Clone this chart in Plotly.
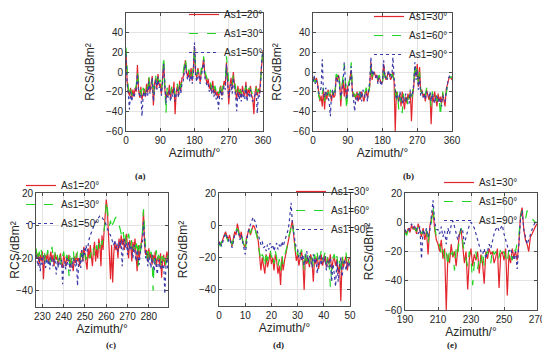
import plotly.graph_objects as go

# ---------------- data ----------------
# (a) azimuth 0..360 step 3
A_START, A_STEP = 0, 3
a_red = [22, -10, -20, -24, -16, -28, -18, -25, -16, -20,
         7, -18, -26, -15, -28, -22, -17, -25, -12, -21,
         -6, -20, -14, -4, -34, -12, -6, -17, -2, -14,
         -12, -22, -6, 10, -17, -28, -20, -24, -13, -27,
         -17, -22, -10, -43, -20, -14, -24, -9, -19, -6,
         -6, 4, 12, 0, -5, 2, -6, 4, -9, 4,
         26, -2, -6, 4, -4, -10, 1, 5, 14, -2,
         -6, -12, -7, -17, -12, -20, -9, -22, -16, -24,
         -20, -26, -18, -14, -24, -16, -9, -14, 10, -8,
         -33, -14, -6, -17, 0, -13, -20, -28, -14, -24,
         -17, -26, -14, -22, -24, -10, -26, -17, -22, -14,
         -24, -26, -43, -21, -14, -24, -17, -22, -4, 12,
         22]
a_green = [25, -5, -17, -20, -14, -24, -20, -22, -18, -13,
           0, -14, -20, -18, -26, -16, -19, -22, -14, -18,
           -4, -16, -10, -8, -24, -8, -4, -14, -6, -10,
           -8, -18, -10, 16, -12, -42, -16, -20, -17, -22,
           -15, -18, -14, -24, -16, -12, -20, -12, -16, -8,
           -3, 6, 14, 3, -2, 3, -3, 1, -6, 7,
           24, 2, -3, 2, -1, -6, 4, 3, 16, 1,
           -3, -8, -10, -13, -10, -17, -12, -18, -14, -20,
           -16, -22, -20, -12, -20, -14, -11, -10, 16, 2,
           -10, -8, -10, -13, -3, -10, -16, -22, -16, -20,
           -19, -22, -16, -18, -20, -14, -22, -19, -16, -18,
           -20, -24, -22, -18, -16, -20, -20, -14, -8, 10,
           26]
a_blue = [18, -12, -22, -38, -20, -30, -22, -26, -21, -17,
          -2, -20, -24, -22, -45, -24, -20, -26, -18, -24,
          -10, -22, -16, -6, -30, -14, -8, -18, -5, -16,
          -14, -24, -12, 8, -20, -32, -22, -26, -18, -30,
          -22, -25, -16, -30, -22, -18, -26, -14, -22, -12,
          -10, 0, 8, -2, -8, -3, -10, 0, -12, 0,
          30, -4, -10, 0, -7, -12, -3, 2, 12, -5,
          -10, -14, -12, -20, -16, -22, -14, -25, -20, -28,
          -24, -38, -24, -18, -28, -22, -14, -18, 8, -10,
          -26, -18, -12, -22, -6, -17, -24, -40, -20, -28,
          -22, -30, -18, -26, -28, -14, -30, -22, -26, -18,
          -28, -30, -26, -24, -20, -42, -22, -25, -10, 15,
          20]

# (b) azimuth 0..360 step 3
B_START, B_STEP = 0, 3
b_red = [-8, -5, -10, -6, -12, -20, -30, -24, -35, -18,
         -38, -20, -28, -18, -25, -22, -30, -20, -26, -24,
         -5, -8, -3, -10, -35, -15, -8, -25, -10, -30,
         -15, -12, -5, 2, -20, -25, -22, -28, -20, -30,
         -22, -28, -20, -25, -30, -22, -18, -26, -20, -15,
         10, -8, -2, 0, -5, -3, -10, -5, -8, -12,
         -10, 8, -2, -8, -5, 0, -3, -8, -5, 0,
         -10, -60, -20, -25, -30, -22, -35, -20, -28, -38,
         -25, -32, -22, -28, -20, -50, -24, -15, 5, -5,
         8, -15, 5, -20, -18, -25, -22, -30, -18, -25,
         -28, -22, -53, -25, -30, -20, -28, -35, -22, -30,
         -25, -32, -22, -28, -35, -18, -12, -8, -5, -6,
         -8]
b_green = [-6, -10, -8, -12, -15, -25, -28, -20, -22, -16,
           -30, -18, -24, -20, -28, -18, -26, -22, -20, -20,
           -2, -5, 0, -12, -28, -14, -5, 8, -12, -38,
           -18, -10, -8, 10, -18, -22, -25, -24, -22, -26,
           -20, -25, -24, -22, -26, -20, -16, -22, -24, -12,
           8, -5, 0, -2, -4, -6, -8, -3, -6, -10,
           -12, 5, -4, -6, -3, -2, -6, -5, -2, -4,
           -8, -25, -32, -20, -38, -25, -30, -42, -22, -32,
           -28, -26, -35, -25, -22, -30, -20, -10, 8, 0,
           5, -12, 0, -18, -22, -20, -26, -24, -16, -20,
           -22, -26, -35, -20, -26, -24, -22, -30, -25, -28,
           -45, -28, -20, -30, -26, -22, -15, -10, -6, -5,
           -6]
b_blue = [-10, -4, -12, -8, -14, -22, -20, -16, 13, -20,
          -26, -16, -22, -25, -30, -45, -22, -18, -24, -20,
          -6, -10, -4, -15, -25, -20, -10, 10, -15, -28,
          -20, -15, -10, 6, -22, -28, -40, -26, -30, -22,
          -28, -20, -30, -18, -22, -26, -22, -30, -18, -10,
          15, -3, 2, -4, -6, -2, -12, -6, -10, -14,
          -8, 12, -6, -4, -8, 2, -5, -2, -6, 15,
          -5, -20, -28, -24, -30, -20, -26, -32, -25, -30,
          -22, -28, -30, -32, -18, -25, -22, -12, 10, -8,
          2, -18, -5, -24, -20, -26, -22, -28, -20, -22,
          -25, -20, -30, -22, -28, -32, -24, -25, -30, -26,
          -30, -35, -24, -28, -30, -20, -10, -6, -4, -3,
          -5]

# (c) azimuth 227..289 step 0.5
C_START, C_STEP = 227, 0.5
c_red = [-15, -20, -17, -24, -18, -22, -16, -33, -20, -18,
         -21, -17, -23, -19, -16, -22, -18, -25, -17, -21,
         -19, -24, -20, -17, -23, -26, -18, -21, -25, -19,
         -22, -18, -26, -20, -24, -28, -19, -23, -17, -22,
         -20, -25, -18, -15, -22, -13, -18, -24, -27, -14,
         -20, -12, -18, -25, -15, -10, -22, -14, -20, -8,
         -12, -25, -6, -15, -3, 5, 16, 10, -5, -20,
         -33, -12, -35, -18, -10, -15, -12, -20, -8, -14,
         -6, -12, -8, -15, -10, -5, -14, -20, -9, -12,
         -22, -10, -15, -8, -18, -28, -12, -20, -15, -10,
         -5, 9, -12, -18, -15, -22, -14, -20, -17, -24,
         -18, -22, -16, -25, -20, -19, -24, -17, -32, -21,
         -18, -25, -20, -16, -22]
c_green = [-14, -18, -22, -16, -20, -15, -21, -19, -17, -23,
           -18, -15, -20, -24, -17, -13, -19, -22, -16, -20,
           -18, -22, -17, -20, -24, -19, -16, -22, -20, -18,
           -21, -31, -18, -24, -19, -15, -22, -18, -20, -16,
           -19, -22, -16, -14, -20, -17, -15, -21, -18, -16,
           -18, -20, -15, -17, -14, -19, -16, -12, -15, -10,
           -14, -8, -12, -6, -3, 2, 15, 12, 2, 0,
           3, -2, 1, 2, 4, 5, 5, 3, 0, -2,
           -5, -8, -4, -10, -6, -12, -8, -5, -10, -14,
           -8, -12, -16, -10, -14, -9, -25, -12, -18, -10,
           -4, 10, -8, -15, -20, -13, -18, -22, -16, -19,
           -40, -20, -24, -15, -22, -18, -20, -25, -16, -20,
           -22, -18, -24, -17, -20]
c_blue = [-18, -22, -25, -19, -28, -20, -24, -18, -22, -26,
          -20, -24, -21, -27, -19, -23, -25, -20, -22, -30,
          -22, -26, -20, -24, -21, -36, -25, -22, -27, -20,
          -24, -21, -28, -23, -26, -20, -22, -25, -21, -37,
          -24, -20, -26, -15, -22, -14, -18, -12, -16, -10,
          -8, -6, -4, -2, 0, 1, 2, 3, 4, 5,
          6, 6, 5, 4, 3, 2, 0, -2, -4, -5,
          -6, -8, -10, -12, -9, -14, -11, -16, -10, -13,
          -9, -25, -12, -8, -14, -11, -18, -10, -15, -12,
          -14, -20, -12, -17, -22, -15, -19, -24, -16, -12,
          -10, 2, -14, -20, -17, -25, -19, -22, -26, -18,
          -22, -28, -20, -24, -30, -21, -25, -27, -22, -26,
          -24, -42, -26, -20, -28]

# (d) azimuth 0..50 step 0.5
D_START, D_STEP = 0, 0.5
d_red = [-10, -12, -11, -8, -6, -4, -7, -9, -6, -10,
         -13, -8, -4, -6, 1, -3, -8, -4, -10, -12,
         -14, -8, -5, -2, -6, -3, 0, -1, -3, -6,
         -10, -18, -28, -20, -25, -30, -18, -26, -22, -17,
         -24, -20, -28, -18, -22, -30, -25, -37, -20, -28,
         -22, -18, -15, -10, -5, -2, 3, -6, -16, -22,
         -18, -25, -20, -16, -22, -40, -18, -24, -20, -26,
         -18, -22, -35, -20, -24, -19, -27, -21, -18, -25,
         -22, -19, -26, -20, -24, -18, -28, -22, -20, -25,
         -21, -30, -24, -47, -20, -26, -22, -19, -28, -21,
         -20]
d_green = [-11, -13, -10, -7, -5, -6, -8, -10, -7, -9,
           -12, -9, -5, -3, -2, -4, -7, -5, -9, -11,
           -16, -9, -4, -3, -5, -2, -1, 0, -4, -7,
           -12, -16, -22, -18, -20, -26, -16, -22, -18, -15,
           -20, -17, -24, -16, -20, -26, -21, -28, -18, -24,
           -19, -16, -13, -8, -4, 0, 2, -5, -14, -20,
           -16, -22, -18, -15, -20, -28, -16, -22, -18, -24,
           -17, -20, -26, -18, -22, -17, -24, -19, -16, -22,
           -20, -17, -24, -18, -22, -38, -26, -20, -18, -23,
           -19, -26, -22, -30, -18, -24, -20, -17, -25, -22,
           -24]
d_blue = [-12, -10, -13, -9, -7, -5, -8, -10, -8, -11,
          -14, -10, -6, -5, -3, -5, -9, -6, -11, -14,
          -18, -10, -5, -2, 0, 2, 5, 3, 2, -3,
          -6, -8, -12, -10, -14, -13, -16, -12, -15, -11,
          -14, -12, -16, -13, -11, -15, -12, -14, -10, -13,
          -10, -8, -5, -2, 5, 14, 2, -5, -10, -14,
          -15, -20, -17, -22, -18, -25, -20, -16, -23, -19,
          -21, -26, -18, -24, -20, -30, -22, -18, -25, -20,
          -23, -19, -28, -22, -26, -20, -35, -24, -30, -38,
          -22, -35, -26, -20, -32, -24, -21, -28, -23, -26,
          -22]

# (e) azimuth 190..270 step 1
E_START, E_STEP = 190, 1
e_red = [-6, -8, -4, -7, -2, -5, -3, -8, -1, -6,
         -10, -4, -12, -6, -22, -3, 2, 8, -5, -12,
         -15, -20, -12, -25, -18, -60, -22, -28, -15, -24,
         -20, -30, -18, -8, -5, -15, -28, -20, -46, -25,
         -18, -30, -22, -26, -20, -35, -22, -28, -42, -20,
         -25, -18, -22, -20, -28, -24, -18, -45, -22, -20,
         -26, -18, -50, -22, -28, -18, -24, -20, -26, -15,
         5, 10, -5, -12, -15, -20, -10, -8, -5, -3,
         -1]
e_green = [-7, -9, -5, -6, -3, -4, -5, -6, -2, -4,
           -8, -6, -10, -5, -15, -4, 0, 10, -3, -10,
           -12, -16, -22, -18, -25, -20, -30, -18, -22, -20,
           -33, -18, -22, -10, -4, -12, -22, -25, -30, -20,
           -24, -43, -28, -20, -32, -24, -28, -20, -30, -22,
           -20, -24, -28, -18, -22, -20, -26, -24, -18, -22,
           -20, -24, -28, -18, -22, -26, -18, -20, -14, -10,
           4, 8, 5, 2, 8, 6, 5, 3, 1, 0,
           0]
e_blue = [-5, -7, -6, -3, -1, -4, -2, -5, -8, -3,
          -25, -5, -8, -4, -10, -6, 5, 15, 0, -5,
          -5, -8, -3, -10, -6, -15, -4, -8, -2, 1,
          -3, -8, -12, -8, -4, -6, -15, -10, -6, -2,
          0, -2, -4, -8, -12, -15, -20, -22, -18, -25,
          -20, -15, -18, -12, -8, -5, -3, -6, -4, -2,
          -8, -12, -15, -20, -18, -22, -26, -20, -32, -15,
          2, 8, -5, -10, -15, -12, -8, -5, -2, 0,
          -1]

names_a = ["As1=20°", "As1=30°", "As1=50°"]
names_b = ["As1=30°", "As1=60°", "As1=90°"]
panel_labels = ["(a)", "(b)", "(c)", "(d)", "(e)"]

# ---------------- styling ----------------
W, H = 550, 360
OFF = 8  # the page body margin shifts the figure by 8 px on screen
RED, GREEN, BLUE = "#e3262e", "#22d622", "#3a3aa8"
FONT = "Liberation Sans, Arial, sans-serif"


def px(x):
    return (x - OFF) / W


def py(y):
    return 1 - (y - OFF) / H


fig = go.Figure()

# boxes / legend positions in screen pixels of the 550x360 picture
panels = [
    dict(data=(a_red, a_green, a_blue), start=A_START, step=A_STEP, names=names_a,
         xr=[0, 360], yr=[-60, 60], xt=[0, 90, 180, 270, 360], yt=[-60, -40, -20, 0, 20, 40, 60],
         box=(126, 263, 13, 131), leg=(184, 0)),
    dict(data=(b_red, b_green, b_blue), start=B_START, step=B_STEP, names=names_b,
         xr=[0, 360], yr=[-60, 60], xt=[0, 90, 180, 270, 360], yt=[-60, -40, -20, 0, 20, 40, 60],
         box=(313, 452, 13, 131), leg=(369, 2)),
    dict(data=(c_red, c_green, c_blue), start=C_START, step=C_STEP, names=names_a,
         xr=[227, 289], yr=[-50, 20], xt=[230, 240, 250, 260, 270, 280], yt=[-40, -20, 0, 20],
         box=(36, 168, 193, 307), leg=(21, 171)),
    dict(data=(d_red, d_green, d_blue), start=D_START, step=D_STEP, names=names_b,
         xr=[0, 50], yr=[-50, 20], xt=[0, 10, 20, 30, 40, 50], yt=[-40, -20, 0, 20],
         box=(219, 350, 193, 306), leg=(291, 177)),
    dict(data=(e_red, e_green, e_blue), start=E_START, step=E_STEP, names=names_b,
         xr=[190, 270], yr=[-60, 20], xt=[190, 210, 230, 250, 270], yt=[-60, -40, -20, 0, 20],
         box=(405, 537, 193, 310), leg=(439, 168)),
]

styles = [dict(color=RED, dash="solid"), dict(color=GREEN, dash="dash"), dict(color=BLUE, dash="dot")]

layout = {}
for i, p in enumerate(panels):
    k = "" if i == 0 else str(i + 1)
    leg = "legend" if i == 0 else f"legend{i + 1}"
    for vals, nm, st in zip(p["data"], p["names"], styles):
        xs = [p["start"] + p["step"] * j for j in range(len(vals))]
        fig.add_trace(go.Scatter(
            x=xs, y=vals, mode="lines", name=nm,
            line=dict(color=st["color"], dash=st["dash"], width=1.2),
            xaxis="x" + k, yaxis="y" + k, legend=leg,
        ))
    l, r, t, b = p["box"]
    axcommon = dict(showline=True, linecolor="#4d4d4d", linewidth=1, mirror="ticks",
                    ticks="inside", ticklen=3, tickcolor="#4d4d4d",
                    showgrid=True, gridcolor="#e3e3e3", gridwidth=1, zeroline=False,
                    tickfont=dict(family=FONT, size=10, color="#262626"))
    layout["xaxis" + k] = dict(axcommon, domain=[px(l), px(r)], range=p["xr"], tickvals=p["xt"],
                               anchor="y" + k,
                               title=dict(text="Azimuth/°", font=dict(family=FONT, size=12, color="#262626"),
                                          standoff=2))
    layout["yaxis" + k] = dict(axcommon, domain=[py(b), py(t)], range=p["yr"], tickvals=p["yt"],
                               anchor="x" + k,
                               title=dict(text="RCS/dBm²",
                                          font=dict(family=FONT, size=12, color="#262626"),
                                          standoff=8))
    lx, ly = p["leg"]
    layout[leg] = dict(x=px(lx), y=py(ly), xanchor="left", yanchor="top",
                       bgcolor="rgba(255,255,255,0)", borderwidth=0,
                       font=dict(family=FONT, size=10, color="#262626"),
                       tracegroupgap=0, itemwidth=30)

fig.update_layout(**layout)

label_pos = [(133, 176), (416, 176), (104, 352), (278, 352), (459, 352)]
for lab, (x, y) in zip(panel_labels, label_pos):
    fig.add_annotation(text="<b>" + lab + "</b>", x=px(x), y=py(y), xref="paper", yref="paper",
                       showarrow=False, font=dict(family="Liberation Serif, Times New Roman, serif",
                                                  size=9, color="#222222"))

fig.update_layout(width=W, height=H, margin=dict(l=0, r=0, t=0, b=0, autoexpand=False),
                  paper_bgcolor="white", plot_bgcolor="white", showlegend=True)

fig.write_html("out.html")
